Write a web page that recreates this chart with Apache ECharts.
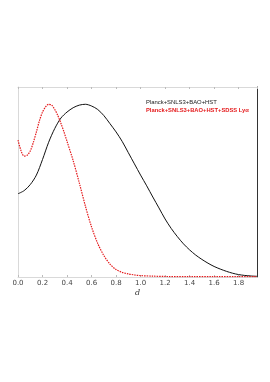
<!DOCTYPE html>
<html><head><meta charset="utf-8">
<script src="https://cdn.jsdelivr.net/npm/echarts@6/dist/echarts.min.js"></script>
<style>html,body{margin:0;padding:0;background:#fff}#c{width:270px;height:382px}</style>
</head><body><div id="c"></div>
<script>
const seriesNames = ["Planck+SNLS3+BAO+HST", "Planck+SNLS3+BAO+HST+SDSS Lyα"];
const blackD = [0,0.05,0.1,0.15,0.2,0.25,0.3,0.35,0.4,0.45,0.5,0.55,0.6,0.65,0.7,0.75,0.8,0.85,0.9,0.95,1.0,1.05,1.1,1.15,1.2,1.25,1.3,1.35,1.4,1.45,1.5,1.55,1.6,1.65,1.7,1.75,1.8,1.85,1.9,1.95];
const blackP = [0.482,0.50,0.535,0.59,0.68,0.78,0.86,0.92,0.955,0.98,0.995,1.0,0.99,0.97,0.935,0.888,0.84,0.785,0.72,0.655,0.59,0.528,0.463,0.40,0.336,0.281,0.234,0.192,0.157,0.127,0.102,0.08,0.061,0.046,0.033,0.022,0.014,0.009,0.006,0.004];
const redD = [0,0.025,0.05,0.075,0.1,0.125,0.15,0.175,0.2,0.225,0.25,0.275,0.3,0.325,0.35,0.375,0.4,0.45,0.5,0.55,0.6,0.65,0.7,0.75,0.8,0.85,0.9,0.95,1.0,1.1,1.2,1.4,1.6,1.8,1.95];
const redP = [0.793,0.73,0.70,0.705,0.73,0.779,0.84,0.905,0.955,0.985,1.0,0.995,0.97,0.935,0.89,0.84,0.785,0.674,0.545,0.41,0.29,0.195,0.125,0.075,0.043,0.027,0.018,0.012,0.008,0.005,0.003,0.002,0.002,0.002,0.002];
const xTickStep = 0.2;

const chart = echarts.init(document.getElementById('c'), null, {renderer:'canvas'});
const zip = (a,b)=>a.map((x,i)=>[x,b[i]]);
const frameColor = '#d9d9d9';
chart.setOption({
  animation:false,
  backgroundColor:'#fff',
  grid:{left:18,right:13,top:87,bottom:105,show:false},
  legend:{
    left:141, top:99, padding:0, orient:'vertical', icon:'none', itemGap:1, itemWidth:0, itemHeight:7,
    textStyle:{fontSize:6, lineHeight:7, fontFamily:'Liberation Sans', padding:0},
    data:[
      {name:seriesNames[0], textStyle:{color:'#222', fontSize:5.9}},
      {name:seriesNames[1], textStyle:{color:'#e41a1c', fontSize:5.8, fontWeight:'bold'}}
    ],
    selectedMode:false
  },
  xAxis:[{
    type:'value', min:0, max:1.95, interval:xTickStep, position:'bottom',
    name:'d', nameLocation:'middle', nameGap:12,
    nameTextStyle:{fontFamily:'DejaVu Serif', fontStyle:'italic', fontSize:8, color:'#333'},
    axisLine:{onZero:false, lineStyle:{color:frameColor, width:1}},
    axisTick:{show:true, inside:true, length:2, lineStyle:{color:'#bbb'}},
    splitLine:{show:false},
    axisLabel:{fontSize:7, color:'#444', fontFamily:'DejaVu Sans', margin:3, showMaxLabel:false,
      formatter:v=>v.toFixed(1)}
  },{
    type:'value', min:0, max:1.95, interval:xTickStep, position:'top',
    axisLine:{onZero:false, lineStyle:{color:frameColor, width:1}},
    axisTick:{show:true, inside:true, length:2, lineStyle:{color:'#bbb'}},
    splitLine:{show:false}, axisLabel:{show:false}
  }],
  yAxis:[{
    type:'value', min:0, max:1.1, position:'left',
    axisLine:{show:true, onZero:false, lineStyle:{color:frameColor, width:1}},
    axisTick:{show:false}, axisLabel:{show:false}, splitLine:{show:false}
  },{
    type:'value', min:0, max:1.1, position:'right',
    axisLine:{show:true, onZero:false, lineStyle:{color:'#333', width:1}},
    axisTick:{show:false}, axisLabel:{show:false}, splitLine:{show:false}
  }],
  series:[
    {name:seriesNames[0], type:'line', data:zip(blackD,blackP), smooth:0.3, showSymbol:false,
      lineStyle:{color:'#111', width:1}, itemStyle:{color:'#111'}},
    {name:seriesNames[1], type:'line', data:zip(redD,redP), smooth:0.3, showSymbol:false,
      lineStyle:{color:'#e41a1c', width:1.2, type:[1.5,1]}, itemStyle:{color:'#e41a1c'}}
  ]
});
</script></body></html>
